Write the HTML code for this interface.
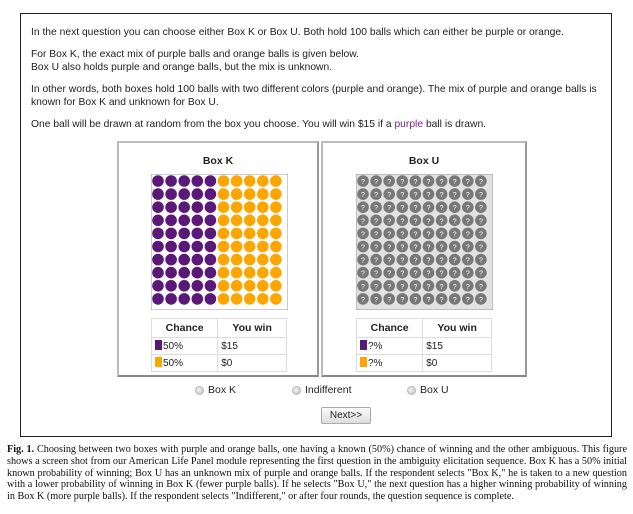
<!DOCTYPE html>
<html><head><meta charset="utf-8">
<style>
body{margin:0;width:633px;height:514px;background:#fff;position:relative;overflow:hidden;font-family:"Liberation Sans",Arial,sans-serif;}
.frame{position:absolute;left:20px;top:13px;width:592px;height:424px;border:1px solid #222;box-sizing:border-box;}
.t{position:absolute;left:31px;font-size:10.3px;color:#222;line-height:13px;white-space:nowrap;}
.panel{position:absolute;top:141px;width:202px;height:236px;border:2px solid #bbb;border-bottom-color:#888;border-right-color:#999;box-sizing:border-box;background:#fff;}
.ptitle{position:absolute;top:12px;width:100%;text-align:center;font-weight:bold;font-size:10.5px;color:#222;}
table{position:absolute;left:32px;top:175px;width:136px;border-collapse:collapse;font-size:10px;color:#222;}
td{border:1px solid #ddd;height:16px;padding:0 3px;}
th{border:1px solid #ddd;height:16px;font-weight:bold;font-size:10.5px;}
.sw{display:inline-block;width:7px;height:10px;vertical-align:-1px;margin-right:1px;}
.radio{position:absolute;top:386px;width:9px;height:9px;border-radius:50%;background:radial-gradient(circle at 40% 40%,#f4f4f4,#bbb);border:1px solid #bbb;box-sizing:border-box;}
.rl{position:absolute;top:384px;font-size:10.5px;color:#222;}
.btn{position:absolute;left:321px;top:407px;width:50px;height:17px;border:1px solid #aaa;border-radius:2px;background:linear-gradient(#fafafa,#ddd);font-size:10px;text-align:center;line-height:16px;box-sizing:border-box;color:#222;}
.cap{position:absolute;left:7px;top:444px;width:620px;font-family:"Liberation Serif",serif;font-size:10.2px;line-height:11.8px;text-align:justify;color:#111;text-align-last:left;}
</style></head><body>
<div class="frame"></div>
<div class="t" style="top:26px">In the next question you can choose either Box K or Box U. Both hold 100 balls which can either be purple or orange.</div>
<div class="t" style="top:48px">For Box K, the exact mix of purple balls and orange balls is given below.<br>Box U also holds purple and orange balls, but the mix is unknown.</div>
<div class="t" style="top:83px">In other words, both boxes hold 100 balls with two different colors (purple and orange). The mix of purple and orange balls is<br>known for Box K and unknown for Box U.</div>
<div class="t" style="top:118px">One ball will be drawn at random from the box you choose. You will win $15 if a <span style="color:#7a1f86">purple</span> ball is drawn.</div>

<div class="panel" style="left:117px">
<div class="ptitle">Box K</div>
<svg id="gk" style="position:absolute;left:32px;top:31px" width="137" height="136"></svg>
<table><tr><th>Chance</th><th>You win</th></tr>
<tr><td><span class="sw" style="background:#5a1878"></span>50%</td><td>$15</td></tr>
<tr><td><span class="sw" style="background:#ffa500"></span>50%</td><td>$0</td></tr></table>
</div>
<div class="panel" style="left:321px;width:206px">
<div class="ptitle">Box U</div>
<svg id="gu" style="position:absolute;left:33px;top:31px" width="137" height="136"></svg>
<table style="left:33px"><tr><th>Chance</th><th>You win</th></tr>
<tr><td><span class="sw" style="background:#5a1878"></span>?%</td><td>$15</td></tr>
<tr><td><span class="sw" style="background:#ffa500"></span>?%</td><td>$0</td></tr></table>
</div>

<div class="radio" style="left:195px"></div>
<div class="rl" style="left:208px">Box K</div>
<div class="radio" style="left:292px"></div>
<div class="rl" style="left:305px">Indifferent</div>
<div class="radio" style="left:407px"></div>
<div class="rl" style="left:420px">Box U</div>
<div class="btn">Next&gt;&gt;</div>

<div class="cap"><b>Fig. 1.</b> Choosing between two boxes with purple and orange balls, one having a known (50%) chance of winning and the other ambiguous. This figure shows a screen shot from our American Life Panel module representing the first question in the ambiguity elicitation sequence. Box K has a 50% initial known probability of winning; Box U has an unknown mix of purple and orange balls. If the respondent selects "Box K," he is taken to a new question with a lower probability of winning in Box K (fewer purple balls). If he selects "Box U," the next question has a higher winning probability of winning in Box K (more purple balls). If the respondent selects "Indifferent," or after four rounds, the question sequence is complete.</div>
<script>
const purpleCount=50;
const totalBalls=100;
const cols=10;
const NS='http://www.w3.org/2000/svg';
function grid(id,known){
 const s=document.getElementById(id);
 const bg=document.createElementNS(NS,'rect');
 bg.setAttribute('width',137);bg.setAttribute('height',136);
 bg.setAttribute('fill',known?'#fff':'#e2e2e2');bg.setAttribute('stroke','#999');
 s.appendChild(bg);
 for(let i=0;i<totalBalls;i++){
  const r=Math.floor(i/cols),c=i%cols;
  const cx=7+c*13.1,cy=7+r*13.1;
  const el=document.createElementNS(NS,'circle');
  
  
  el.setAttribute('cx',cx);el.setAttribute('cy',cy);el.setAttribute('r',5.8);
  let fill='#787878';
  if(known) fill=(c<cols*purpleCount/totalBalls)?'#5a1878':'#ffa500';
  el.setAttribute('fill',fill);
  s.appendChild(el);
  if(!known){
   const t=document.createElementNS(NS,'text');
   t.setAttribute('x',cx);t.setAttribute('y',cy+3);
   t.setAttribute('text-anchor','middle');t.setAttribute('font-size','7');
   t.setAttribute('fill','#fff');t.setAttribute('font-family','Liberation Sans, sans-serif');
   t.textContent='?';s.appendChild(t);
  }
 }
}
grid('gk',true);grid('gu',false);
</script>
</body></html>
